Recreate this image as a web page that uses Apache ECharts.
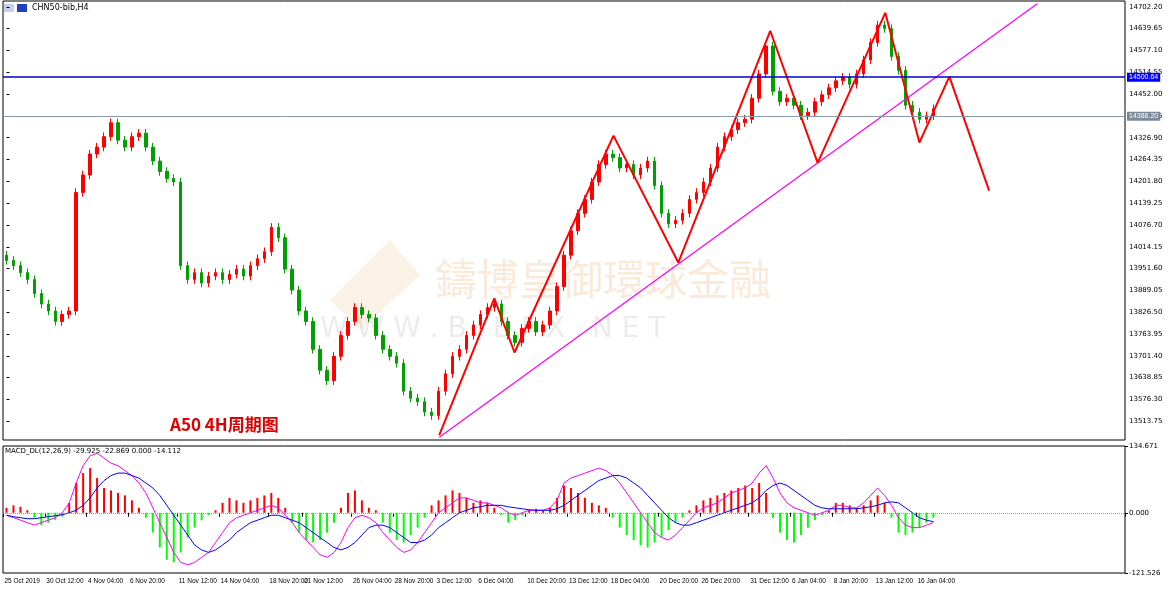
<!DOCTYPE html><html><head><meta charset="utf-8">
<script src="https://cdn.jsdelivr.net/npm/echarts@6/dist/echarts.min.js"></script>
<style>html,body{margin:0;padding:0;background:#fff}#c{width:1170px;height:596px}</style></head><body><div id="c"></div>
<script>
const closes=[13975,13960,13940,13920,13880,13850,13830,13800,13820,13830,
14170,14220,14280,14300,14330,14370,14320,14300,14330,14340,
14300,14260,14230,14210,14200,13960,13920,13940,13910,13930,
13940,13920,13935,13950,13930,13960,13980,14000,14070,14040,
13950,13890,13830,13800,13720,13660,13630,13700,13760,13800,
13840,13820,13810,13760,13720,13700,13680,13600,13580,13570,
13540,13530,13600,13650,13700,13720,13760,13790,13820,13840,
13850,13800,13760,13740,13780,13800,13770,13790,13830,13900,
13990,14060,14110,14150,14200,14250,14280,14270,14240,14250,
14220,14240,14260,14190,14110,14080,14090,14110,14150,14170,
14200,14240,14300,14330,14350,14370,14380,14440,14510,14590,
14460,14430,14440,14420,14390,14400,14430,14450,14470,14490,
14500,14480,14510,14550,14600,14650,14640,14560,14520,14420,
14400,14380,14390,14410];
const hist=[10,15,12,5,-10,-25,-20,-15,-8,20,60,80,90,70,50,45,40,35,25,10,
-10,-40,-70,-95,-100,-80,-50,-30,-15,-5,5,20,30,25,20,25,30,35,40,30,
10,-20,-40,-55,-60,-55,-40,-20,10,40,45,25,10,5,-20,-40,-55,-60,-45,-30,
-10,15,25,35,45,40,30,20,25,20,10,-5,-20,-15,-5,5,8,5,10,30,
55,50,40,30,20,15,10,-10,-30,-45,-55,-65,-70,-60,-50,-35,-20,-10,5,15,
25,30,35,40,45,50,55,50,60,40,-10,-40,-55,-60,-45,-30,-15,-5,5,20,
20,15,10,15,25,35,20,-10,-40,-45,-40,-30,-20,-10];
const macdMain=[-5,-10,-15,-20,-25,-20,-15,-10,0,20,60,95,115,120,110,100,95,85,75,60,
40,10,-20,-50,-80,-100,-105,-100,-90,-80,-60,-40,-20,-10,-5,0,5,10,15,10,
-5,-20,-40,-55,-70,-85,-90,-80,-60,-30,-10,-5,-10,-20,-40,-55,-70,-80,-75,-60,
-40,-20,0,10,20,30,30,25,20,20,15,10,0,-5,0,5,5,5,10,25,
60,70,75,80,85,90,85,75,60,40,20,0,-20,-40,-50,-55,-45,-30,-15,0,
10,15,20,30,40,45,50,60,80,95,70,40,20,10,5,0,-5,0,5,15,
15,10,10,20,35,50,35,15,-10,-25,-30,-30,-25,-20];
const macdSignal=[-5,-8,-10,-12,-12,-10,-8,-6,-4,0,5,15,30,50,65,75,80,80,75,70,
60,50,35,15,-5,-25,-45,-65,-75,-80,-75,-65,-55,-40,-30,-20,-15,-10,-5,-5,
-10,-15,-20,-30,-40,-50,-60,-70,-75,-70,-60,-45,-30,-25,-25,-30,-40,-50,-60,-60,
-55,-45,-30,-20,-10,0,5,10,12,15,15,15,12,10,8,6,5,5,5,8,
15,25,35,45,55,65,70,75,75,70,60,50,35,20,5,-10,-20,-25,-25,-20,
-15,-10,-5,0,5,10,15,20,30,45,55,60,55,45,35,25,15,10,8,8,
8,8,8,10,12,15,20,22,20,10,0,-10,-15,-18];
const zigzag=[[62.1,13474],[70,13866],[72.9,13711],[87.1,14333],[96.4,13969],[109.6,14633],[116.4,14255],[126.1,14685],[131,14313],[135.3,14502],[141,14175]];
const trend=[[62.1,13468],[147.9,14711]];
const priceTicks=[13513.75,13576.30,13638.85,13701.40,13763.95,13826.50,13889.05,13951.60,14014.15,14076.70,14139.25,14201.80,14264.35,14326.90,14389.45,14452.00,14514.55,14577.10,14639.65,14702.20];
const dateLabels=['25 Oct 2019','30 Oct 12:00','4 Nov 04:00','6 Nov 20:00','11 Nov 12:00','14 Nov 04:00','18 Nov 20:00','21 Nov 12:00','26 Nov 04:00','28 Nov 20:00','3 Dec 12:00','6 Dec 04:00','10 Dec 20:00','13 Dec 12:00','18 Dec 04:00','20 Dec 20:00','26 Dec 20:00','31 Dec 12:00','6 Jan 04:00','8 Jan 20:00','13 Jan 12:00','16 Jan 04:00'];
const dateIdx=[0,6,12,18,25,31,38,43,50,56,62,68,75,81,87,94,100,107,113,119,125,131];
const blueLevel=14500.64, greyLevel=14388.20;

const N=161;
const cats=[];for(let i=0;i<N;i++)cats.push(i);
const candles=[];
for(let i=0;i<closes.length;i++){
  const o=i===0?closes[0]+15:closes[i-1], c=closes[i];
  candles.push([o,c,Math.min(o,c)-12,Math.max(o,c)+12]);
}
const labMap={};dateIdx.forEach((d,k)=>labMap[d]=dateLabels[k]);
const histData=hist.map(v=>({value:v,itemStyle:{color:v>=0?'#ff0000':'#00ff00'}}));
const pMin=13460,pMax=14719;
const chart=echarts.init(document.getElementById('c'));
chart.setOption({
  animation:false,
  grid:[{left:3,right:45,top:1,height:439,show:true,borderColor:'#000',borderWidth:1},
        {left:3,right:45,top:446,height:127,show:true,borderColor:'#000',borderWidth:1}],
  xAxis:[
    {type:'category',data:cats,gridIndex:0,axisLine:{show:false},axisTick:{show:false},axisLabel:{show:false},splitLine:{show:false}},
    {type:'category',data:cats,gridIndex:1,axisLine:{show:false},axisTick:{show:true,lineStyle:{color:'#000'},length:4,interval:(i)=>labMap[i]!==undefined,inside:false},
      axisLabel:{showMinLabel:true,interval:(i)=>labMap[i]!==undefined,formatter:(v)=>labMap[v]||'',fontSize:6.5,fontFamily:'Liberation Sans',color:'#000',align:'left',margin:5,padding:[0,0,0,-2]},splitLine:{show:false}},
    {type:'value',gridIndex:0,min:-0.5,max:N-0.5,show:false}
  ],
  yAxis:[
    {type:'value',gridIndex:0,position:'right',min:pMin,max:pMax,axisLine:{show:false},
      axisTick:{show:true,customValues:priceTicks,length:3,lineStyle:{color:'#000'}},
      axisLabel:{customValues:priceTicks,formatter:v=>v.toFixed(2),fontSize:7,fontFamily:'DejaVu Sans',color:'#000',margin:4},splitLine:{show:false}},
    {type:'value',gridIndex:1,position:'right',min:-121.526,max:134.671,axisLine:{show:false},
      axisTick:{show:true,customValues:[-121.526,0,134.671],length:3,lineStyle:{color:'#000'}},
      axisLabel:{customValues:[-121.526,0,134.671],formatter:v=>v.toFixed(3),fontSize:7,fontFamily:'DejaVu Sans',color:'#000',margin:4},splitLine:{show:false}}
  ],
  series:[
    {type:'candlestick',xAxisIndex:0,yAxisIndex:0,data:candles,barWidth:3,
      itemStyle:{color:'#ff0000',color0:'#00a000',borderColor:'#ff0000',borderColor0:'#00a000',borderWidth:1},
      markLine:{symbol:'none',silent:true,data:[
        {yAxis:blueLevel,lineStyle:{color:'#0000cc',width:1.5,type:'solid'},label:{position:'end',formatter:blueLevel.toFixed(2),backgroundColor:'#0000ff',color:'#fff',fontSize:7,padding:[1,2],distance:2}},
        {yAxis:greyLevel,lineStyle:{color:'#8a9aa8',width:1,type:'solid'},label:{position:'end',formatter:greyLevel.toFixed(2),backgroundColor:'#7a8a98',color:'#fff',fontSize:7,padding:[1,2],distance:2}}
      ]}},
    {type:'line',xAxisIndex:2,yAxisIndex:0,data:trend,symbol:'none',lineStyle:{color:'#ff00ff',width:1.2}},
    {type:'line',xAxisIndex:2,yAxisIndex:0,data:zigzag,symbol:'none',lineStyle:{color:'#ff0000',width:2}},
    {type:'bar',xAxisIndex:1,yAxisIndex:1,data:histData,barWidth:2,
      markLine:{symbol:'none',silent:true,data:[{yAxis:0}],lineStyle:{color:'#999',type:'dotted',width:1},label:{show:false}}},
    {type:'line',xAxisIndex:1,yAxisIndex:1,data:macdMain,symbol:'none',lineStyle:{color:'#ff00ff',width:1}},
    {type:'line',xAxisIndex:1,yAxisIndex:1,data:macdSignal,symbol:'none',lineStyle:{color:'#0000ff',width:1}}
  ],
  graphic:[
    {type:'text',left:32,top:4,style:{text:'CHN50-bib,H4',fontSize:8,fontFamily:'DejaVu Sans',fill:'#000'}},
    {type:'rect',shape:{x:4,y:4,width:10,height:8},style:{fill:'#c8d0e8'}},
    {type:'rect',shape:{x:17,y:4,width:10,height:8},style:{fill:'#2040c0'}},
    {type:'text',left:5,top:448,style:{text:'MACD_DL(12,26,9) -29.925 -22.869 0.000 -14.112',fontSize:7,fontFamily:'DejaVu Sans',fill:'#000'}},
    {type:'text',left:170,top:416,style:{text:'A50 4H周期图',fontSize:17,fontWeight:'bold',fontFamily:'Noto Sans CJK SC',fill:'#e00000'}},
    {type:'text',left:435,top:258,style:{text:'鑄博皇御環球金融',fontSize:42,fontFamily:'Noto Sans CJK TC',fill:'rgba(235,180,120,0.28)',letterSpacing:6}},
    {type:'text',left:320,top:316,style:{text:'W W W . B I B F X . N E T',fontSize:28,fontFamily:'DejaVu Sans',fill:'rgba(200,200,200,0.35)'}},
    {type:'polygon',shape:{points:[[330,300],[390,240],[420,275],[360,330]]},style:{fill:'rgba(235,190,130,0.2)'}}
  ]
});
</script></body></html>
